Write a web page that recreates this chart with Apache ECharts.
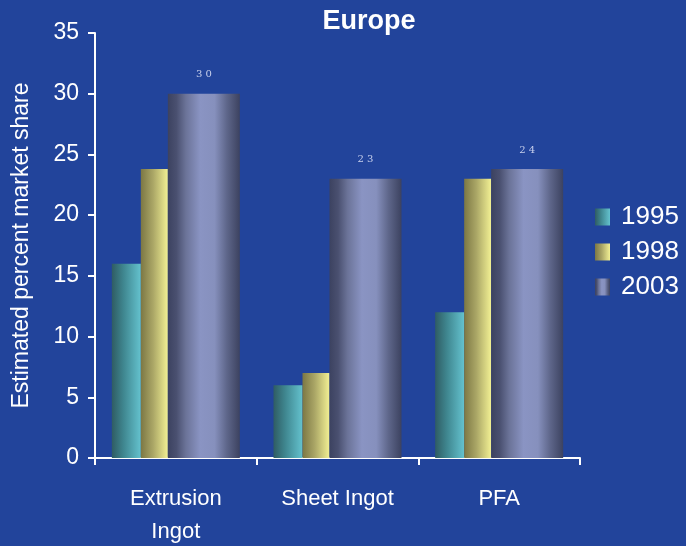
<!DOCTYPE html>
<html>
<head>
<meta charset="utf-8">
<script src="https://cdn.jsdelivr.net/npm/echarts@6/dist/echarts.min.js"></script>
<style>
  html, body { margin: 0; padding: 0; background: #22449b; }
  #chart { width: 686px; height: 546px; }
</style>
</head>
<body>
<div id="chart"></div>
<script>
const categories = ["Extrusion\nIngot", "Sheet Ingot", "PFA"];
const years = ["1995", "1998", "2003"];
const share1995 = [16, 6, 12];
const share1998 = [23.8, 7, 23];
const share2003 = [30, 23, 23.8];

const FONT = "Liberation Sans, Arial, sans-serif";

// horizontal gradients to fake the cylinder look
const grad = (stops) => new echarts.graphic.LinearGradient(0, 0, 1, 0,
  stops.map(([o, c]) => ({ offset: o, color: c })));

const col1995 = grad([[0, "#2f5c63"], [0.4, "#3f868f"], [1, "#64c2ce"]]);
const col1998 = grad([[0, "#7c7744"], [0.45, "#aaa666"], [1, "#f2f093"]]);
const col2003 = grad([
  [0, "#3c4260"], [0.12, "#4a5070"], [0.25, "#6b7398"],
  [0.45, "#8a94c3"], [0.65, "#8690bd"], [0.82, "#5e668a"], [1, "#3c4260"],
]);

const chart = echarts.init(document.getElementById("chart"));

const options = {
  backgroundColor: "#22449b",
  title: {
    text: "Europe",
    left: 364,
    top: 3,
    textAlign: "center",
    textStyle: { color: "#fff", fontSize: 27, fontWeight: "bold", fontFamily: FONT },
  },
  legend: {
    orient: "vertical",
    left: 590,
    top: 199,
    icon: "rect",
    itemWidth: 15,
    itemHeight: 17,
    itemGap: 9,
    data: years,
    textStyle: { color: "#fff", fontSize: 26, fontFamily: FONT, padding: [0, 0, 0, 6] },
  },
  grid: { left: 95, right: 106, top: 33, bottom: 88, outerBoundsMode: "none", containLabel: false },
  xAxis: {
    type: "category",
    data: categories,
    axisLine: { lineStyle: { color: "#fff", width: 2 } },
    axisTick: { show: true, length: 7, lineStyle: { color: "#fff", width: 2 } },
    axisLabel: {
      color: "#fff", fontSize: 22, fontFamily: FONT, margin: 24, lineHeight: 33,
    },
  },
  yAxis: {
    type: "value",
    min: 0,
    max: 35,
    interval: 5,
    name: "Estimated percent market share",
    nameLocation: "middle",
    nameRotate: 90,
    nameGap: 62,
    nameTextStyle: { color: "#fff", fontSize: 23, fontFamily: FONT },
    splitLine: { show: false },
    axisLine: { show: true, lineStyle: { color: "#fff", width: 2 } },
    axisTick: { show: true, length: 7, lineStyle: { color: "#fff", width: 2 } },
    axisLabel: { color: "#fff", fontSize: 23, fontFamily: FONT, margin: 16 },
  },
  series: [
    {
      name: "1995", type: "bar", data: share1995, barWidth: 29, barGap: "0%",
      itemStyle: { color: col1995 },
    },
    {
      name: "1998", type: "bar", data: share1998, barWidth: 27, barGap: "0%",
      itemStyle: { color: col1998 },
    },
    {
      name: "2003", type: "bar", data: share2003, barWidth: 72, barGap: "0%",
      itemStyle: { color: col2003 },
      label: {
        show: true,
        position: "top",
        distance: 14,
        color: "#c8d0ec",
        fontSize: 10,
        fontFamily: "DejaVu Serif, serif",
        formatter: (p) => Math.round(p.value).toString().split("").join(" "),
      },
    },
  ],
};

chart.setOption(options);
</script>
</body>
</html>
